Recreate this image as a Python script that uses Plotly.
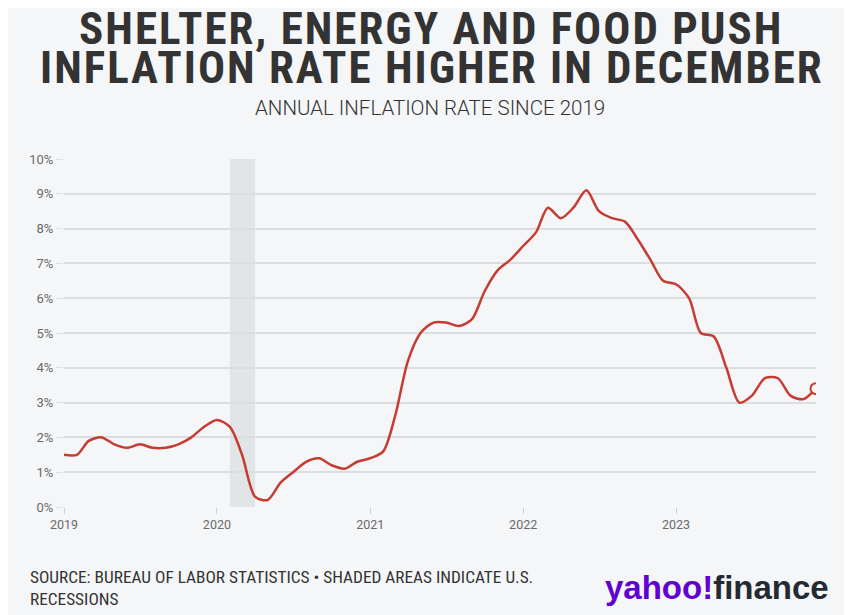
import plotly.graph_objects as go

months = [f"{y}-{m:02d}-01" for y in range(2019, 2024) for m in range(1, 13)]
inflation = [
    1.5, 1.5, 1.9, 2.0, 1.8, 1.7, 1.8, 1.7, 1.7, 1.8, 2.0, 2.3,
    2.5, 2.3, 1.5, 0.3, 0.2, 0.7, 1.0, 1.3, 1.4, 1.2, 1.1, 1.3,
    1.4, 1.6, 2.6, 4.2, 5.0, 5.3, 5.3, 5.2, 5.4, 6.2, 6.8, 7.1,
    7.5, 7.9, 8.6, 8.3, 8.6, 9.1, 8.5, 8.3, 8.2, 7.7, 7.1, 6.5,
    6.4, 6.0, 5.0, 4.9, 4.0, 3.0, 3.2, 3.7, 3.7, 3.2, 3.1, 3.4,
]
recession_start = "2020-02-01"
recession_end = "2020-04-01"
year_ticks = ["2019-01-01", "2020-01-01", "2021-01-01", "2022-01-01", "2023-01-01"]
year_labels = ["2019", "2020", "2021", "2022", "2023"]
y_ticks = list(range(0, 11))
y_labels = [f"{v}%" for v in y_ticks]

RED = "#c63b32"
BG = "#f5f6f8"
GRID = "#dcdde1"
COND = "Roboto Condensed, Liberation Sans Narrow, sans-serif"
ROBOTO = "Roboto, Liberation Sans, sans-serif"

W, H = 852, 615
L, R, T, B = 56, 44, 151, 116
PW, PH = W - L - R, H - T - B

def px(x):
    return (x - L) / PW

def py(y):
    return (H - B - y) / PH

fig = go.Figure()
fig.add_trace(go.Scatter(
    x=months, y=inflation, mode="lines",
    line=dict(color=RED, width=2.5, shape="spline", smoothing=0.8),
    hoverinfo="skip", showlegend=False,
))
fig.add_trace(go.Scatter(
    x=[months[-1]], y=[inflation[-1]], mode="markers",
    marker=dict(size=11, color=BG, line=dict(color=RED, width=2)),
    hoverinfo="skip", showlegend=False,
))

shapes = [
    dict(type="rect", xref="x", yref="y", x0=recession_start, x1=recession_end,
         y0=0, y1=10, fillcolor="#e2e5e8", line=dict(width=0), layer="below"),
]

SP = "<span style='letter-spacing:2px'>{}</span>"

annotations = [
    dict(text=SP.format("SHELTER, ENERGY AND FOOD PUSH"), x=px(423), y=py(21), xref="paper", yref="paper",
         showarrow=False, xanchor="center", yanchor="middle",
         font=dict(family=COND, size=45, color="#333333", weight=700)),
    dict(text=SP.format("INFLATION RATE HIGHER IN DECEMBER"), x=px(424), y=py(60), xref="paper", yref="paper",
         showarrow=False, xanchor="center", yanchor="middle",
         font=dict(family=COND, size=45, color="#333333", weight=700)),
    dict(text="ANNUAL INFLATION RATE SINCE 2019", x=px(422), y=py(100), xref="paper", yref="paper",
         showarrow=False, xanchor="center", yanchor="middle",
         font=dict(family=ROBOTO, size=20.5, color="#333333", weight=300)),
    dict(text="SOURCE: BUREAU OF LABOR STATISTICS \u2022 SHADED AREAS INDICATE U.S.<br>RECESSIONS",
         x=px(20), y=py(580), xref="paper", yref="paper", showarrow=False,
         xanchor="left", yanchor="middle", align="left",
         font=dict(family=COND, size=17.3, color="#333333")),
    dict(text="<span style='color:#6001d2'>yahoo!</span><span style='color:#232a31'>finance</span>",
         x=px(823), y=py(579), xref="paper", yref="paper", showarrow=False,
         xanchor="right", yanchor="middle",
         font=dict(family="Liberation Sans, Arial, sans-serif", size=33, weight=800)),
]

fig.update_layout(
    width=W, height=H,
    margin=dict(l=L, r=R, t=T, b=B),
    paper_bgcolor=BG, plot_bgcolor=BG,
    shapes=shapes, annotations=annotations,
    xaxis=dict(
        range=["2019-01-01", "2023-12-01"],
        tickvals=year_ticks, ticktext=year_labels,
        showgrid=False, zeroline=False, showline=False,
        ticks="outside", ticklen=6, tickcolor="#cfd0d4",
        tickfont=dict(family=ROBOTO, size=12.5, color="#6a6a6a"),
    ),
    yaxis=dict(
        range=[0, 10], tickvals=y_ticks, ticktext=y_labels,
        showgrid=True, gridcolor=GRID, gridwidth=1.5,
        zeroline=False, showline=False,
        ticks="outside", ticklen=7, tickcolor=GRID,
        tickfont=dict(family=ROBOTO, size=13, color="#6a6a6a"),
    ),
)

fig.write_html("out.html")
